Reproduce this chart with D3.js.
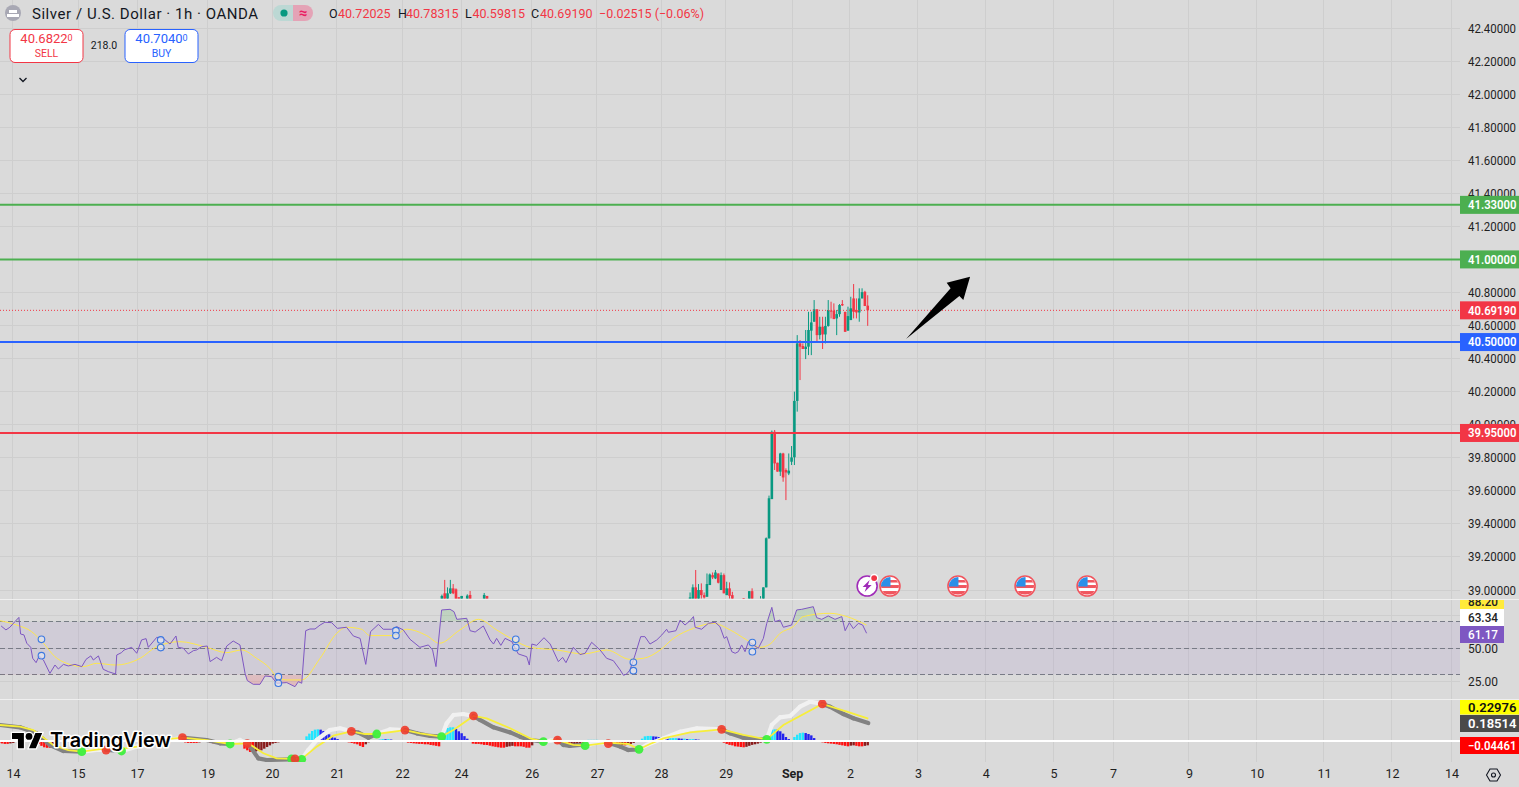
<!DOCTYPE html>
<html><head><meta charset="utf-8">
<script src="https://cdnjs.cloudflare.com/ajax/libs/d3/7.8.5/d3.min.js"></script>
<style>html,body{margin:0;padding:0;background:#dadada;overflow:hidden}svg{display:block;font-family:Roboto,sans-serif}</style>
</head><body><svg id="c" width="1519" height="787"></svg>
<script>
// ---- axis data
const priceTicks=[39,39.2,39.4,39.6,39.8,40,40.2,40.4,40.6,40.8,41,41.2,41.4,41.6,41.8,42,42.2,42.4];
const timeLabels=["14","15","17","19","20","21","22","24","26","27","28","29","Sep","2","3","4","5","7","9","10","11","12","14"];
const timeSlots=[6.9,30,50.9,76,98.8,121.8,144.9,165.8,190.9,214,236.7,259.7,283.2,303.7,327.8,351.9,375.9,397,423.9,448,471.8,495.9,517];
const rsiTicks=[25,50,75];
// ---- candles
const cSlot=[159,160,161,162,163,164,165,166,168,169,174,175,247,248,249,250,251,252,253,254,255,256,257,258,259,260,261,262,266,268,269,272,273,274,275,276,277,278,279,280,281,282,283,284,285,286,287,288,289,290,291,292,293,294,295,296,297,298,299,300,301,302,303,304,305,306,307,308,309,310];
const cOpen=[38.9,38.98,38.9,38.98,39.01,39.004,38.956,38.9,38.9,38.97,38.9,38.964,38.9,38.9,39.016,38.9,39.0,38.969,38.959,39.03,39.09,39.07,39.1,39.0,39.09,38.969,39.01,38.969,38.951,38.9,38.993,38.9,38.9,39.016,39.313,39.55,39.957,39.77,39.716,39.826,39.726,39.705,39.776,39.803,40.144,40.492,40.476,40.458,40.472,40.569,40.623,40.698,40.542,40.593,40.546,40.597,40.69,40.69,40.643,40.669,40.73,40.683,40.569,40.633,40.764,40.694,40.679,40.764,40.804,40.72025];
const cHigh=[38.972,39.061,39.016,39.061,39.036,39.01,38.956,38.964,38.974,38.994,38.982,38.964,38.985,39.034,39.121,39.036,39.04,38.985,39.1,39.1,39.106,39.121,39.1,39.106,39.1,39.05,39.046,38.989,38.951,38.993,39.01,38.963,39.016,39.318,39.571,39.965,39.968,39.77,39.83,39.83,39.736,39.826,39.871,40.2,40.542,40.512,40.492,40.573,40.683,40.683,40.754,40.698,40.653,40.653,40.653,40.754,40.744,40.734,40.694,40.73,40.754,40.683,40.714,40.774,40.851,40.764,40.825,40.825,40.81,40.78315];
const cLow=[38.9,38.9,38.9,38.976,38.975,38.9,38.9,38.9,38.9,38.9,38.9,38.9,38.9,38.9,38.9,38.9,38.945,38.92,38.959,39.03,39.066,39.066,39.04,39.0,38.98,38.969,38.93,38.9,38.9,38.9,38.9,38.9,38.9,39.016,39.31,39.55,39.726,39.716,39.69,39.655,39.544,39.695,39.756,39.756,40.079,40.27,40.458,40.397,40.421,40.421,40.623,40.496,40.516,40.458,40.492,40.593,40.643,40.639,40.542,40.653,40.718,40.562,40.569,40.633,40.643,40.643,40.623,40.764,40.718,40.59815];
const cClose=[38.964,38.9,38.98,39.01,38.98,38.9,38.9,38.964,38.966,38.9,38.97,38.9,38.955,39.016,38.9,39.0,38.969,38.955,39.036,39.094,39.076,39.106,39.044,39.09,38.98,39.01,38.965,38.92,38.93,38.993,38.9,38.945,39.016,39.313,39.555,39.957,39.766,39.716,39.826,39.681,39.711,39.722,39.802,40.144,40.492,40.472,40.458,40.472,40.573,40.619,40.698,40.542,40.593,40.546,40.597,40.694,40.688,40.639,40.669,40.724,40.722,40.562,40.657,40.704,40.683,40.679,40.764,40.802,40.718,40.6919];
// ---- horizontal levels
const levelValues=[41.33,41.0,40.5,39.95];
const levelColors=["#4caf50","#4caf50","#2962ff","#f23645"];
const lastPrice=40.6919;
// ---- annotation arrow (time slot, price)
const arrowSlots=[323.6,339.4,338,346.3,343.9,342.5];
const arrowPrices=[40.518,40.825,40.859,40.895,40.754,40.779];
// ---- events
const eventPower=[309.8];
const eventFlags=[317.9,342,365.8,387.8];
const eventPrice=39.024;
// ---- RSI
const rsiSlot=[2.7,4.4,5.8,7.6,9,9.6,10.8,11.8,13.2,13.9,15.1,16.2,17.7,20,21.8,23,24.8,26.5,28.9,31.3,32.8,34.5,35.4,37.2,38.9,40.7,43.3,43.7,45.4,46.3,49,50.8,52.5,54.1,54.9,57.9,60.2,62.6,64.7,65.5,67.3,69.1,70.9,72,73.8,75.8,76.8,79.1,80.9,82.7,85,87.4,89.2,90,92.1,94.5,96.3,98.6,100.4,104,106.9,108.1,109.3,110.7,112.2,114,115.8,117.5,119.9,121.9,125.2,127.6,130,132,133.7,136.5,138.2,141.2,143,145.3,147.7,151.2,154.2,155.7,156.9,158.9,161.9,163.3,164.3,167.8,169,170.8,173.7,176.1,177.3,178.4,179.9,181.4,183.8,186.1,189.1,190,190.9,192.6,195.2,197.4,200.3,201.8,203,205.6,208,209.8,212.1,215.1,217.4,219.8,222.2,223.4,224.5,225.7,227.5,229.5,231,232.8,235.2,237,238.7,239.3,242,243.5,245.2,247,248.2,248.8,251.1,253.5,255.9,257.6,259.1,260,261.8,263,264.1,265.3,266.5,267.7,271.2,273,274.2,276,277.1,278.9,280.1,283,284.8,286.6,290.7,291.9,293.7,296,298.4,300.8,302,303.5,304.9,306.7,308.2,309.6];
const rsiValue=[66.7,63.7,65.7,70,73.2,60.6,59.9,53.6,50.5,42.2,38.9,44,40.9,30.8,37.1,34.1,37.6,36.4,37.6,35.9,41.4,44,40.9,44,33.9,32.1,30.3,44.7,46.5,48.5,50.5,46,56.1,57.1,50.5,58.1,57.3,53,59.1,50.5,49.8,45.5,48,48.5,51,51.5,39.7,42.9,40.4,51.5,55.3,52.3,30.8,25.3,22.5,22.5,28.8,28.3,23.3,23.8,20.7,24.5,23.3,63.1,64.4,64.4,67.4,69.5,69.2,64.9,65.7,59.1,57.3,37.6,62.4,67.9,64.2,64.2,66.2,63.7,56.6,50.5,52.3,48.5,35.9,78.8,79.3,77.5,71.7,72.5,63.1,62.1,66.7,56.1,53,57.3,52,57.3,54.8,45.5,43.4,37.1,53,52,57.8,53,39.7,42.9,38.9,50.5,45,46,54.3,48.5,42.2,40.4,33.4,29.3,30.3,33.4,44.7,58.6,58.6,53,56.1,59.9,64.2,61.9,63.1,71.2,67.4,70.7,73.8,65.7,64.2,68.7,69.5,66.2,57.3,58.6,47.2,46,47.2,52.3,47.2,54.8,49.8,57.3,68.7,80.8,70,71.2,65.7,67.4,78.8,79.3,81.3,73,71.7,74.3,71.7,73.8,63.1,69.2,64.7,68.7,67.4,61.17];
const rsiMaSlot=[2.3,8.2,13.5,17.7,21.8,25.9,31.9,36.6,43.1,52,57.9,66.1,75.6,82.7,88,93.3,98,100.4,104,109.3,115.8,121.7,125.2,130.5,133.5,141.8,146.5,153.6,158.1,165.4,172,178.4,184.4,190.3,199.7,209.2,217.4,225.7,230.5,236.4,241.1,248.2,255.3,261.2,267.1,271.8,275.4,278.9,283.6,287.2,296.6,302.6,309.6];
const rsiMaValue=[70.7,67.4,62.4,53.6,43.4,38.4,35.9,38.4,37.1,42.2,51,54.8,50.5,46.5,48.5,42.2,34.6,28.3,25.8,25.8,42.2,61.1,65.7,64.2,59.4,59.4,64.2,59.4,53.6,63.7,71.7,63.7,56.1,50.5,48.5,45.5,48.5,41.4,42.2,48.5,57.3,64.9,68.7,63.7,56.1,50.5,53,61.1,66.2,73.8,76.3,73.8,67.4];
const divSlot=[17,17,59.3,59.3,101,101,142.7,142.7,185.2,185.2,226.9,226.9,269.1,269.1];
const divValue=[56.6,44.2,56.1,50.3,28.3,23.3,63.1,59.4,56.6,50.3,39.2,32.8,54.1,47.2];
// ---- MACD
const macdSlot=[2.3,9.4,15.3,20,24.8,31.3,36.6,39.9,45.4,50.8,60.2,67,75.6,80.3,83.9,87.4,90.4,93.9,96.9,105.1,109.3,111.6,114.6,119.3,122.9,126.9,129.4,132.9,135.9,140.6,145.9,150.1,154.8,158.9,160.7,163.1,166.6,170.2,172.5,177.3,183.2,186.7,190.3,195,197.4,200,202.1,204.4,208,209.8,213.9,218,222.2,225.1,228.9,231.6,237.5,243.5,249.4,258.2,261.2,265.9,270.6,274.2,276,278.9,282.5,286,289.6,293.9,296.6,301.4,304.9,310.2];
const macdValue=[.165,.141,.079,-.041,-.103,-.11,-.093,-.093,-.103,-.058,0,.034,.01,-.024,-.031,.01,-.031,-.179,-.196,-.189,-.189,-.093,.01,.113,.131,.1,.086,.034,.072,.12,.113,.079,.052,.045,.182,.268,.278,.258,.217,.141,.089,.045,.01,-.007,.003,.01,-.041,-.051,-.041,-.048,-.017,-.017,-.058,-.093,-.086,-.041,.027,.096,.131,.12,.079,.034,.017,.017,.165,.244,.258,.354,.406,.382,.354,.278,.234,.18514];
const sigSlot=[2.3,9.4,14.1,21.2,26.5,31.3,39.9,45.4,50.8,57.9,67,75.6,83.9,90.4,95.7,100.4,106.3,109.3,114.6,120.5,126.9,131.7,135.9,145.9,151.2,158.9,163.1,170.2,174.9,183.2,190.3,195,200,205.6,209.8,218,225.1,228.9,232.8,237.5,247,258.2,265.9,274.2,280.1,293.9,302.6,310.2];
const sigValue=[.165,.148,.113,-.041,-.093,-.11,-.076,-.082,-.058,.01,.034,.01,-.031,-.024,-.127,-.179,-.185,-.185,-.058,.055,.1,.072,.072,.113,.079,.045,.113,.258,.234,.131,.027,-.007,.01,-.041,-.048,-.017,-.031,-.086,-.031,.027,.089,.12,.062,.017,.165,.382,.302,.22976];
const greenDotSlot=[31.3,45.4,83.9,105.7,109.3,135.9,158.9,195,209.8,228.9,274.2];
const greenDotValue=[-.11,-.103,-.031,-.185,-.189,.072,.045,-.007,-.048,-.086,.017];
const redDotSlot=[39.9,67,90,106.9,126.9,145.9,170.2,200,218,258.2,293.9];
const redDotValue=[-.093,.034,-.027,-.185,.1,.113,.258,.01,-.027,.12,.382];
const histStarts=[2,16,67,76,85,89,111,126,136,146,159,170,197,201,209,211,217,229,259,274,284,293];
const histBlocks=[
[-.02,-.025,-.03,-.03,-.025,-.02,-.01],
[-.03,-.05,-.065,-.07,-.07,-.05],
[-.01,-.015,-.02,-.02,-.02,-.02,-.015,-.01,-.005],
[-.01,-.02,-.025,-.03,-.025,-.02,-.015,-.005],
[.005,.01,.012,.01],
[-.079,-.096,-.113,-.113,-.108,-.103,-.096,-.079,-.062,-.045,-.027,-.02,-.014,-.01,-.007,-.005],
[.048,.076,.103,.117,.12,.117,.103,.086,.069,.052,.034,.02,.007,.003,.002],
[-.014,-.02,-.027,-.034,-.05,-.062,-.034,-.014,-.005],
[.008,.015,.02,.018,.02,.015,.008],
[-.01,-.017,-.02,-.024,-.027,-.03,-.03,-.034,-.034,-.041,-.045,-.05,-.055],
[.035,.11,.134,.141,.141,.124,.1,.08,.05,.024],
[-.027,-.03,-.03,-.034,-.04,-.041,-.048,-.055,-.06,-.065,-.069,-.069,-.06,-.055,-.05,-.055,-.055,-.055,-.06,-.069,-.069,-.045],
[-.005,-.008,-.01,-.014],
[-.03,-.045,-.05,-.055,-.052,-.048,-.04,-.03],
[-.02,-.01],
[.012,.012,.012,.012,.005],
[-.014,-.02,-.027,-.04,-.045,-.048,-.045,-.045,-.04,-.03,-.02],
[.01,.024,.048,.052,.052,.048,.045,.041,.041,.034,.03,.03,.03,.03,.027,.024,.024,.02,.02,.02,.017,.014,.01],
[-.017,-.03,-.04,-.045,-.055,-.058,-.062,-.065,-.06,-.05,-.04,-.034,-.027,-.017,-.01],
[.005,.076,.117,.12,.117,.1,.076,.041,.02,.01],
[.041,.065,.082,.086,.082,.072,.058,.03,.01],
[-.01,-.014,-.02,-.024,-.027,-.03,-.034,-.04,-.045,-.05,-.055,-.048,-.045,-.05,-.055,-.055,-.05,-.04461]];

// ---- scales
const PW=1460;
const x=d3.scaleLinear().domain([2.3,500]).range([0,(500-2.3)*2.82]);
const yP=d3.scaleLinear().domain([39,42.4]).range([590,28]);
const yR=d3.scaleLinear().domain([25,75]).range([681,615]);
const yM=d3.scaleLinear().domain([0,0.2]).range([741,721.6]);
const UP="#089981",DN="#f23645",GRID="#cecece";

const svg=d3.select("#c");
svg.append("rect").attr("width",1519).attr("height",787).attr("fill","#dadada");
const defs=svg.append("defs");
const clip=(id,y,h)=>defs.append("clipPath").attr("id",id).append("rect").attr("x",0).attr("y",y).attr("width",PW).attr("height",h);
clip("cpMain",0,598.5);clip("cpRsi",600,99);clip("cpMacd",700,62);
defs.append("clipPath").attr("id","cpAbove").append("rect").attr("x",0).attr("y",600).attr("width",PW).attr("height",yR(70)-600);
defs.append("clipPath").attr("id","cpBelow").append("rect").attr("x",0).attr("y",yR(30)).attr("width",PW).attr("height",699-yR(30));
defs.append("clipPath").attr("id","cpTag").append("rect").attr("x",1460).attr("y",600).attr("width",59).attr("height",99);
const gg=defs.append("linearGradient").attr("id","gUp").attr("x1",0).attr("y1",0).attr("x2",0).attr("y2",1);
gg.append("stop").attr("offset",0).attr("stop-color","#4caf50").attr("stop-opacity",.2);
gg.append("stop").attr("offset",1).attr("stop-color","#4caf50").attr("stop-opacity",0);
const gr=defs.append("linearGradient").attr("id","gDn").attr("x1",0).attr("y1",0).attr("x2",0).attr("y2",1);
gr.append("stop").attr("offset",0).attr("stop-color","#f23645").attr("stop-opacity",0);
gr.append("stop").attr("offset",1).attr("stop-color","#f23645").attr("stop-opacity",.2);

// ---- grid
const grid=svg.append("g").attr("stroke",GRID).attr("stroke-width",1).attr("shape-rendering","crispEdges");
grid.selectAll(".v").data(timeSlots).join("line").attr("x1",d=>x(d)).attr("x2",d=>x(d)).attr("y1",0).attr("y2",762);
grid.selectAll(".h").data(priceTicks).join("line").attr("x1",0).attr("x2",PW).attr("y1",d=>yP(d)).attr("y2",d=>yP(d));
grid.selectAll(".r").data(rsiTicks).join("line").attr("x1",0).attr("x2",PW).attr("y1",d=>yR(d)).attr("y2",d=>yR(d));

// ---- candles
const main=svg.append("g").attr("clip-path","url(#cpMain)");
const candles=cSlot.map((s,i)=>({s,o:cOpen[i],h:cHigh[i],l:cLow[i],c:cClose[i]}));
const cg=main.selectAll(".k").data(candles).join("g");
cg.append("line").attr("x1",d=>x(d.s)).attr("x2",d=>x(d.s)).attr("y1",d=>yP(d.h)).attr("y2",d=>yP(d.l)).attr("stroke",d=>d.c>=d.o?UP:DN).attr("stroke-width",1);
cg.append("rect").attr("x",d=>x(d.s)-1.3).attr("width",2.6).attr("y",d=>yP(Math.max(d.o,d.c))).attr("height",d=>Math.max(1,Math.abs(yP(d.o)-yP(d.c)))).attr("fill",d=>d.c>=d.o?UP:DN);

// ---- levels
main.selectAll(".lv").data(levelValues).join("line").attr("x1",0).attr("x2",PW).attr("y1",d=>yP(d)).attr("y2",d=>yP(d)).attr("stroke",(d,i)=>levelColors[i]).attr("stroke-width",2);
main.append("line").attr("x1",0).attr("x2",PW).attr("y1",yP(lastPrice)).attr("y2",yP(lastPrice)).attr("stroke",DN).attr("stroke-dasharray","1 2").attr("stroke-width",1);
// arrow
main.append("polygon").attr("fill","#000").attr("points",arrowSlots.map((s,i)=>x(s)+","+yP(arrowPrices[i])).join(" "));

// ---- events
const flagG=main.selectAll(".fl").data(eventFlags).join("g").attr("transform",d=>`translate(${x(d)},${yP(eventPrice)})`);
defs.append("clipPath").attr("id","cpFlag").append("circle").attr("r",9);
flagG.append("circle").attr("r",10).attr("fill","#fff").attr("stroke","#f0555e").attr("stroke-width",1.6);
const fi=flagG.append("g").attr("clip-path","url(#cpFlag)");
fi.append("rect").attr("x",-10).attr("y",-1).attr("width",20).attr("height",3).attr("fill","#f0555e");
fi.append("rect").attr("x",-10).attr("y",5).attr("width",20).attr("height",3.5).attr("fill","#f0555e");
fi.append("rect").attr("x",0).attr("y",-6).attr("width",10).attr("height",2.5).attr("fill","#f0555e");
fi.append("rect").attr("x",-9).attr("y",-9).attr("width",9.5).attr("height",9.5).attr("fill","#2b8fe8");
const pw=main.selectAll(".pw").data(eventPower).join("g").attr("transform",d=>`translate(${x(d)},${yP(eventPrice)})`);
pw.append("circle").attr("r",10).attr("fill","#fff").attr("stroke","#a02cb8").attr("stroke-width",1.6);
pw.append("path").attr("d","M2.5 -6 L-4.5 1 L-0.8 1 L-2.5 6 L4.5 -1 L0.8 -1 Z").attr("fill","#a02cb8");
pw.append("circle").attr("cx",7).attr("cy",-8).attr("r",3.6).attr("fill","#f23645").attr("stroke","#fff").attr("stroke-width",1.4);

// ---- RSI pane
const rp=svg.append("g").attr("clip-path","url(#cpRsi)");
rp.append("rect").attr("x",0).attr("width",PW).attr("y",yR(70)).attr("height",yR(30)-yR(70)).attr("fill","#7e57c2").attr("opacity",.1);
rp.selectAll(".d").data([70,50,30]).join("line").attr("x1",0).attr("x2",PW).attr("y1",d=>yR(d)).attr("y2",d=>yR(d)).attr("stroke","#787b86").attr("stroke-dasharray","5 3").attr("stroke-width",1).attr("shape-rendering","crispEdges");
const rsiPts=rsiSlot.map((s,i)=>[s,rsiValue[i]]);
rp.append("path").attr("clip-path","url(#cpAbove)").attr("fill","url(#gUp)").attr("d",d3.area().x(d=>x(d[0])).y0(yR(70)).y1(d=>yR(d[1]))(rsiPts));
rp.append("path").attr("clip-path","url(#cpBelow)").attr("fill","url(#gDn)").attr("d",d3.area().x(d=>x(d[0])).y0(yR(30)).y1(d=>yR(d[1]))(rsiPts));
rp.append("path").attr("fill","none").attr("stroke","#ffe84a").attr("stroke-width",1).attr("d",d3.line().curve(d3.curveMonotoneX).x(d=>x(d[0])).y(d=>yR(d[1]))(rsiMaSlot.map((s,i)=>[s,rsiMaValue[i]])));
rp.append("path").attr("fill","none").attr("stroke","#7e57c2").attr("stroke-width",1).attr("d",d3.line().x(d=>x(d[0])).y(d=>yR(d[1]))(rsiPts));
rp.selectAll(".dv").data(divSlot.map((s,i)=>[s,divValue[i]])).join("circle").attr("cx",d=>x(d[0])).attr("cy",d=>yR(d[1])).attr("r",3.3).attr("fill","#e4e8f2").attr("fill-opacity",.65).attr("stroke","#3b78e0").attr("stroke-width",1.1);

// ---- MACD pane
const mp=svg.append("g").attr("clip-path","url(#cpMacd)");
const hist=[];histStarts.forEach((st,b)=>histBlocks[b].forEach((v,i)=>hist.push({s:st+i,v,prev:i?histBlocks[b][i-1]:0})));
const hColor=d=>d.v>=0?(d.v>=d.prev?"#22e6ff":"#2222ee"):(d.v<=d.prev?"#ff1010":"#8a1c1c");
mp.selectAll(".hb").data(hist).join("rect").attr("x",d=>x(d.s)-1.2).attr("width",2.4).attr("y",d=>Math.min(yM(d.v),yM(0))).attr("height",d=>Math.abs(yM(d.v)-yM(0))).attr("fill",hColor);
const segs=d3.pairs(macdSlot.map((s,i)=>[s,macdValue[i]]));
// the thick line is white from a green cross to the next red cross, grey from red to green
const crosses=greenDotSlot.map(s=>({s,up:true})).concat(redDotSlot.map(s=>({s,up:false}))).sort((a,b)=>a.s-b.s);
const rising=m=>{let u=false;crosses.forEach(c=>{if(c.s<=m)u=c.up;});return u;};
mp.selectAll(".ms").data(segs).join("line").attr("x1",d=>x(d[0][0])).attr("y1",d=>yM(d[0][1])).attr("x2",d=>x(d[1][0])).attr("y2",d=>yM(d[1][1])).attr("stroke",d=>rising((d[0][0]+d[1][0])/2)?"#f1f1f1":"#828282").attr("stroke-width",4.2).attr("stroke-linecap","round");
mp.append("path").attr("fill","none").attr("stroke","#f7ee3a").attr("stroke-width",1.8).attr("d",d3.line().x(d=>x(d[0])).y(d=>yM(d[1]))(sigSlot.map((s,i)=>[s,sigValue[i]])));
mp.selectAll(".gd").data(greenDotSlot.map((s,i)=>[s,greenDotValue[i]])).join("circle").attr("cx",d=>x(d[0])).attr("cy",d=>yM(d[1])).attr("r",4.4).attr("fill","#3def3d").attr("opacity",.95);
mp.selectAll(".rd").data(redDotSlot.map((s,i)=>[s,redDotValue[i]])).join("circle").attr("cx",d=>x(d[0])).attr("cy",d=>yM(d[1])).attr("r",4.4).attr("fill","#ef3b2b").attr("opacity",.9);
svg.append("line").attr("x1",0).attr("x2",PW).attr("y1",741).attr("y2",741).attr("stroke","#fff").attr("stroke-width",2);

// ---- pane separators
svg.selectAll(".sep").data([599.5,699.5]).join("line").attr("x1",0).attr("x2",1519).attr("y1",d=>d).attr("y2",d=>d).attr("stroke","#efefef").attr("stroke-width",1.2);

// ---- axes
const axP=svg.append("g").attr("transform","translate(1460,0)").call(d3.axisRight(yP).tickValues(priceTicks).tickSize(0).tickPadding(8).tickFormat(d=>d.toFixed(5)));
const axR=svg.append("g").attr("transform","translate(1460,0)").call(d3.axisRight(yR).tickValues([50,25]).tickSize(0).tickPadding(8).tickFormat(d=>d.toFixed(2)));
const axT=svg.append("g").attr("transform","translate(0,762)").call(d3.axisBottom(x).tickValues(timeSlots).tickSize(0).tickPadding(7).tickFormat((d,i)=>timeLabels[i]));
[axP,axR,axT].forEach(a=>{a.select(".domain").remove();a.selectAll("text").attr("font-family","Roboto,sans-serif").attr("font-size",12.5).attr("fill","#1f1f1f");});
axP.selectAll("text").attr("textLength",48).attr("lengthAdjust","spacingAndGlyphs");
axR.selectAll("text").attr("textLength",30).attr("lengthAdjust","spacingAndGlyphs");
axT.selectAll("text").filter((d,i)=>timeLabels[i]==="Sep").attr("font-weight",700);

// ---- tags
function tag(px,py,w,h,fill,txt,col,weight){
  const g=svg.append("g");
  g.append("rect").attr("x",px).attr("y",py).attr("width",w).attr("height",h).attr("fill",fill);
  g.append("text").attr("x",1468).attr("y",py+h/2+4.3).attr("font-size",12.5).attr("font-weight",weight||500).attr("fill",col)
   .attr("textLength",txt.length>5?48.5:30).attr("lengthAdjust","spacingAndGlyphs").text(txt);
  return g;
}
levelValues.forEach((v,i)=>tag(1460,yP(v)-9,59,18,levelColors[i],v.toFixed(5),"#fff",600));
tag(1460,yP(lastPrice)-9,59,18,DN,lastPrice.toFixed(5),"#fff",600);
tag(1460,594,44,15,"#ffeb3b","88.20","#222",500).attr("clip-path","url(#cpTag)");
tag(1460,609,44,17,"#ffffff","63.34","#222",500);
tag(1460,626,44,17,"#7e57c2","61.17","#fff",500);
tag(1460,700,59,14.5,"#ffff00","0.22976","#111",600);
tag(1460,715,59,17,"#4a4a4a","0.18514","#fff",600);
tag(1460,737,59,17,"#ff0000","\u22120.04461","#fff",600);

// ---- TradingView logo
const lg=svg.append("g");
lg.append("path").attr("transform","translate(12,729.6) scale(.85)").attr("d","M14 22H7V11H0V4h14v18zM28 22h-8l7.5-18h8L28 22z").attr("fill","#000").attr("stroke","#fff").attr("stroke-width",3).attr("paint-order","stroke");
lg.append("circle").attr("cx",12+20*.85).attr("cy",729.6+8*.85).attr("r",3.4).attr("fill","#000").attr("stroke","#fff").attr("stroke-width",2.5).attr("paint-order","stroke");
lg.append("text").attr("x",50).attr("y",747).attr("font-family","Inter,Roboto,sans-serif").attr("font-weight",600).attr("font-size",19.5).attr("textLength",121).attr("lengthAdjust","spacingAndGlyphs").attr("fill","#000").attr("stroke","#fff").attr("stroke-width",3).attr("paint-order","stroke").attr("stroke-linejoin","round").text("TradingView");

// ---- header
const hd=svg.append("g");
hd.append("circle").attr("cx",13).attr("cy",13).attr("r",8).attr("fill","#a8a8b4");
hd.append("rect").attr("x",9).attr("y",10).attr("width",8).attr("height",3).attr("fill","#fff");
hd.append("rect").attr("x",7).attr("y",14).attr("width",12).attr("height",3).attr("fill","#fff");
hd.append("text").attr("x",32).attr("y",19).attr("font-size",15).attr("textLength",226).attr("fill","#131722").text("Silver / U.S. Dollar \u00b7 1h \u00b7 OANDA");
hd.append("path").attr("d","M293 5 H281 a8 8 0 0 0 0 16 H293 Z").attr("fill","#bcd8d4");
hd.append("path").attr("d","M293 5 H305 a8 8 0 0 1 0 16 H293 Z").attr("fill","#e4a3b6");
hd.append("circle").attr("cx",284).attr("cy",13).attr("r",3.6).attr("fill","#089981");
hd.append("text").attr("x",303).attr("y",18).attr("text-anchor","middle").attr("font-size",15).attr("font-weight",700).attr("fill","#e91e63").text("\u2248");
const ohlc=[["O",329,338,"40.72025"],["H",398,406,"40.78315"],["L",465,472.5,"40.59815"],["C",531,540,"40.69190"]];
ohlc.forEach(r=>{
  hd.append("text").attr("x",r[1]).attr("y",18).attr("font-size",12.5).attr("fill","#131722").text(r[0]);
  hd.append("text").attr("x",r[2]).attr("y",18).attr("font-size",12.5).attr("textLength",52.5).attr("fill",DN).text(r[3]);
});
hd.append("text").attr("x",599).attr("y",18).attr("font-size",12.5).attr("textLength",105).attr("fill",DN).text("\u22120.02515 (\u22120.06%)");
function tradeBox(bx,w,col,mainTxt,sup,lab){
  hd.append("rect").attr("x",bx+.5).attr("y",29.5).attr("width",w).attr("height",33).attr("rx",5).attr("fill","#fff").attr("stroke",col);
  const t=hd.append("text").attr("x",bx+w/2+.5).attr("y",43).attr("text-anchor","middle").attr("font-size",13).attr("fill",col).text(mainTxt);
  t.append("tspan").attr("font-size",9).attr("dy",-2).text(sup);
  hd.append("text").attr("x",bx+w/2+.5).attr("y",57).attr("text-anchor","middle").attr("font-size",10.5).attr("fill",col).text(lab);
}
tradeBox(9.5,73,DN,"40.6822","0","SELL");
tradeBox(124.5,73,"#2962ff","40.7040","0","BUY");
hd.append("text").attr("x",104).attr("y",49).attr("text-anchor","middle").attr("font-size",10.5).attr("fill","#131722").text("218.0");
hd.append("path").attr("d","M19.5 78 L23 81.5 L26.5 78").attr("fill","none").attr("stroke","#131722").attr("stroke-width",1.3);

// ---- settings icon
const st=svg.append("g").attr("transform","translate(1493.5,775)").attr("fill","none").attr("stroke","#131722").attr("stroke-width",1.1);
st.append("path").attr("d","M-7 0 L-3.5 -6 L3.5 -6 L7 0 L3.5 6 L-3.5 6 Z");
st.append("circle").attr("r",2);
</script></body></html>
